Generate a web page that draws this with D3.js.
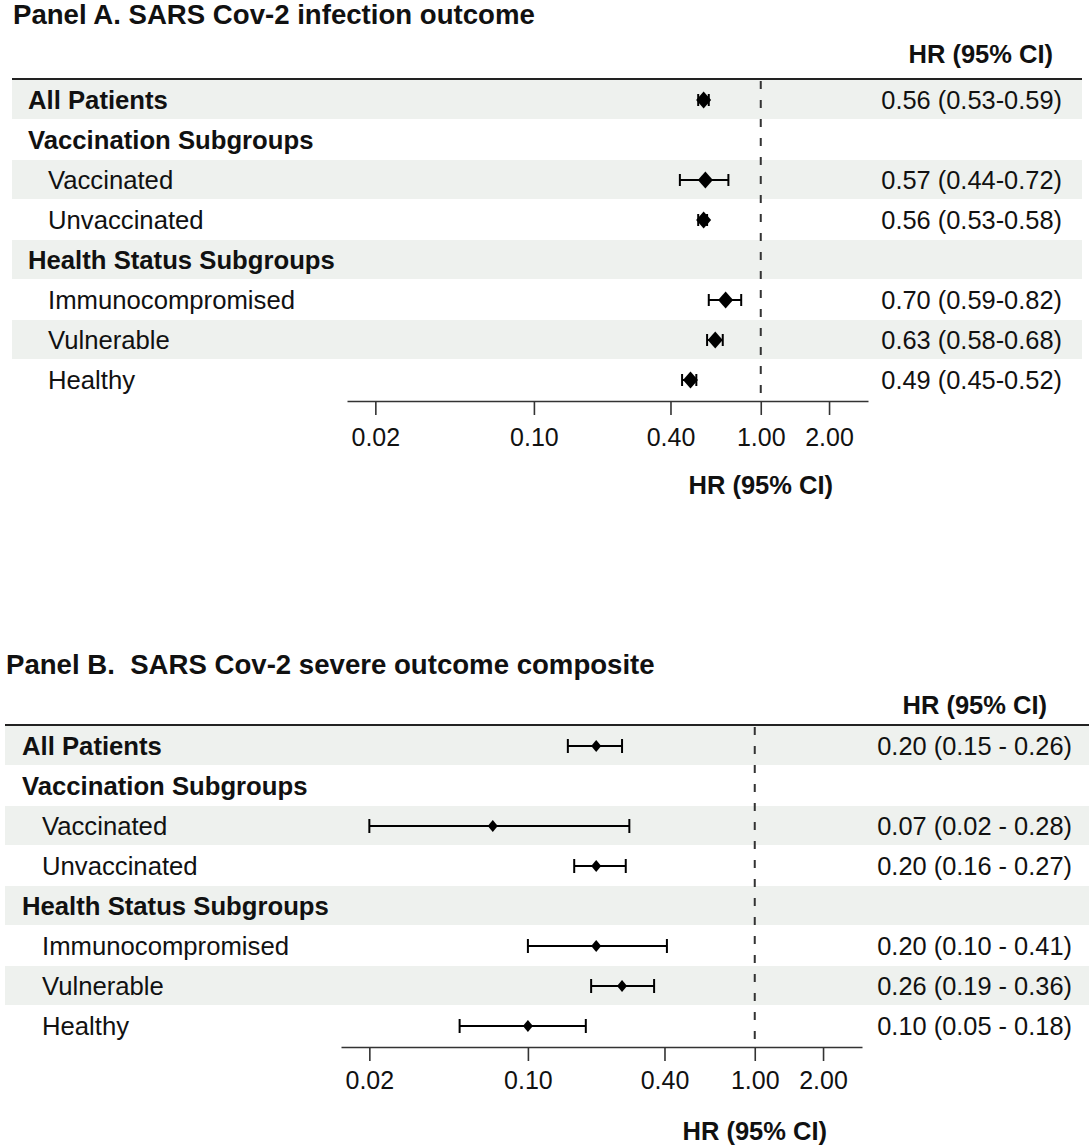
<!DOCTYPE html>
<html>
<head>
<meta charset="utf-8">
<script src="https://cdn.jsdelivr.net/npm/d3@7"></script>
<style>
  body { margin: 0; background: #fff; }
  svg text { font-family: "Liberation Sans", Arial, Helvetica, sans-serif; fill: #111; white-space: pre; }
  .panel-title { font-weight: bold; font-size: 27.6px; }
  .col-head { font-weight: bold; font-size: 25.5px; }
  .row-label { font-size: 25.7px; }
  .row-label.bold { font-weight: bold; }
  .hr-text { font-size: 25.4px; }
  .band { fill: #eef1ee; }
  .rule { stroke: #222; stroke-width: 2; }
  .ref-line { stroke: #333; stroke-width: 2; stroke-dasharray: 8,11; }
  .ci-line { stroke: #000; stroke-width: 2; }
  .axis path, .axis line { stroke: #333; stroke-width: 1.6; }
  .axis text { font-size: 25px; fill: #111; font-family: "Liberation Sans", Arial, sans-serif; }
  .axis-title { font-weight: bold; font-size: 25.5px; }
</style>
</head>
<body>
<div id="chart"></div>
<script>
// rows (shared by both panels)
const rowLabels = ["All Patients", "Vaccination Subgroups", "Vaccinated", "Unvaccinated",
                   "Health Status Subgroups", "Immunocompromised", "Vulnerable", "Healthy"];
const rowIsHeading = [true, true, false, false, true, false, false, false];

// Panel A. infection outcome
const infectionHR = [0.56, null, 0.57, 0.56, null, 0.70, 0.63, 0.49];
const infectionLow = [0.53, null, 0.44, 0.53, null, 0.59, 0.58, 0.45];
const infectionHigh = [0.59, null, 0.72, 0.58, null, 0.82, 0.68, 0.52];

// Panel B. severe outcome composite
const severeHR = [0.20, null, 0.07, 0.20, null, 0.20, 0.26, 0.10];
const severeLow = [0.15, null, 0.02, 0.16, null, 0.10, 0.19, 0.05];
const severeHigh = [0.26, null, 0.28, 0.27, null, 0.41, 0.36, 0.18];

const tickValues = [0.02, 0.10, 0.40, 1.00, 2.00];
const xDomain = [0.015, 2.97];

const fmt = d3.format(".2f");

const svg = d3.select("#chart").append("svg")
    .attr("width", 1092)
    .attr("height", 1146);

function ForestPanel(svg, title, hr, low, high, sep, layout) {
    let vis = this;
    vis.svg = svg;
    vis.title = title;
    vis.sep = sep;
    vis.layout = layout;
    vis.data = rowLabels.map((label, i) => ({
        label: label,
        heading: rowIsHeading[i],
        hr: hr[i], low: low[i], high: high[i]
    }));
    vis.initVis();
}

ForestPanel.prototype.initVis = function() {
    let vis = this;
    let L = vis.layout;
    vis.g = vis.svg.append("g")
        .attr("transform", "translate(0," + L.top + ")");

    vis.rowH = 40;
    vis.yTop = L.rowsTop;
    vis.yAxis = vis.yTop + vis.data.length * vis.rowH + 1;

    vis.xScale = d3.scaleLog()
        .domain(xDomain)
        .range([L.axisLeft, L.axisRight]);

    vis.updateVis();
};

ForestPanel.prototype.updateVis = function() {
    let vis = this;
    let L = vis.layout;
    let rowY = i => vis.yTop + i * vis.rowH;

    // title
    vis.g.append("text")
        .attr("class", "panel-title")
        .attr("x", L.titleX)
        .attr("y", L.titleY)
        .text(vis.title);

    // shaded bands on alternate rows
    vis.g.selectAll("rect.band")
        .data(vis.data.filter((d, i) => i % 2 === 0))
        .enter()
        .append("rect")
        .attr("class", "band")
        .attr("x", L.bandLeft)
        .attr("width", L.bandRight - L.bandLeft)
        .attr("y", (d) => rowY(vis.data.indexOf(d)))
        .attr("height", vis.rowH - 1);

    // column header + rule
    vis.g.append("text")
        .attr("class", "col-head")
        .attr("x", L.headRight)
        .attr("y", L.headY)
        .attr("text-anchor", "end")
        .text("HR (95% CI)");

    vis.g.append("line")
        .attr("class", "rule")
        .attr("x1", L.bandLeft)
        .attr("x2", L.bandRight)
        .attr("y1", vis.yTop - 1)
        .attr("y2", vis.yTop - 1);

    // row labels
    vis.g.selectAll("text.row-label")
        .data(vis.data)
        .enter()
        .append("text")
        .attr("class", d => "row-label" + (d.heading ? " bold" : ""))
        .attr("x", d => d.heading ? L.labelX : L.labelX + 20)
        .attr("y", (d, i) => rowY(i) + vis.rowH / 2 + 9)
        .text(d => d.label);

    // reference line at HR = 1
    vis.g.append("line")
        .attr("class", "ref-line")
        .attr("x1", vis.xScale(1))
        .attr("x2", vis.xScale(1))
        .attr("y1", vis.yTop + 1)
        .attr("y2", vis.yAxis);

    // axis
    vis.g.append("g")
        .attr("class", "axis")
        .attr("transform", "translate(0," + vis.yAxis + ")")
        .call(d3.axisBottom(vis.xScale)
            .tickValues(tickValues)
            .tickFormat(fmt)
            .tickSizeInner(14)
            .tickSizeOuter(0)
            .tickPadding(L.tickPad));

    vis.g.append("text")
        .attr("class", "axis-title")
        .attr("x", vis.xScale(1))
        .attr("y", vis.yAxis + 93)
        .attr("text-anchor", "middle")
        .text("HR (95% CI)");

    let est = vis.data.map((d, i) => Object.assign({row: i}, d)).filter(d => d.hr !== null);

    // CI lines and caps
    let ci = vis.g.selectAll("g.ci")
        .data(est)
        .enter()
        .append("g")
        .attr("class", "ci");

    ci.append("line")
        .attr("class", "ci-line")
        .attr("x1", d => vis.xScale(d.low))
        .attr("x2", d => vis.xScale(d.high))
        .attr("y1", d => rowY(d.row) + vis.rowH / 2)
        .attr("y2", d => rowY(d.row) + vis.rowH / 2);

    ["low", "high"].forEach(k => {
        ci.append("line")
            .attr("class", "ci-line")
            .attr("x1", d => vis.xScale(d[k]))
            .attr("x2", d => vis.xScale(d[k]))
            .attr("y1", d => rowY(d.row) + vis.rowH / 2 - L.cap)
            .attr("y2", d => rowY(d.row) + vis.rowH / 2 + L.cap);
    });

    // diamonds
    ci.append("path")
        .attr("fill", "#000")
        .attr("d", d => {
            let cx = vis.xScale(d.hr), cy = rowY(d.row) + vis.rowH / 2;
            let p = d3.path();
            p.moveTo(cx, cy - L.dh);
            p.lineTo(cx + L.dw, cy);
            p.lineTo(cx, cy + L.dh);
            p.lineTo(cx - L.dw, cy);
            p.closePath();
            return p.toString();
        });

    // HR text column
    vis.g.selectAll("text.hr-text")
        .data(est)
        .enter()
        .append("text")
        .attr("class", "hr-text")
        .attr("x", L.valRight)
        .attr("y", d => rowY(d.row) + vis.rowH / 2 + 9)
        .attr("text-anchor", "end")
        .text(d => fmt(d.hr) + " (" + fmt(d.low) + vis.sep + fmt(d.high) + ")");
};

new ForestPanel(svg, "Panel A. SARS Cov-2 infection outcome",
    infectionHR, infectionLow, infectionHigh, "-",
    {top: 0, titleX: 13, titleY: 24, headRight: 1053, headY: 63, rowsTop: 80,
     bandLeft: 12, bandRight: 1082, labelX: 28, valRight: 1062,
     axisLeft: 347, axisRight: 868, tickPad: 13, cap: 6, dw: 7.5, dh: 8.5});

new ForestPanel(svg, "Panel B.  SARS Cov-2 severe outcome composite",
    severeHR, severeLow, severeHigh, " - ",
    {top: 646, titleX: 6, titleY: 28, headRight: 1047, headY: 68, rowsTop: 80,
     bandLeft: 5, bandRight: 1089, labelX: 22, valRight: 1072,
     axisLeft: 341, axisRight: 862, tickPad: 10, cap: 7, dw: 5, dh: 6});
</script>
</body>
</html>
